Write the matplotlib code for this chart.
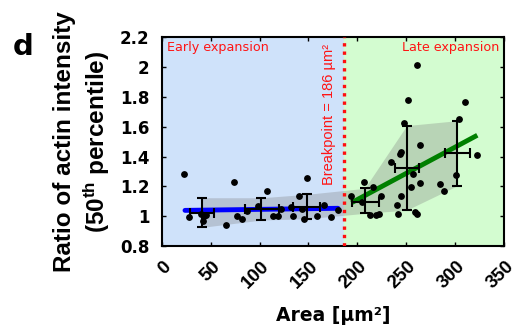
import numpy as np
import matplotlib
matplotlib.use("Agg")
import matplotlib.pyplot as plt
import matplotlib.transforms as mtransforms

plt.rcParams['font.family'] = ['Liberation Sans', 'DejaVu Sans']
plt.rcParams['mathtext.default'] = 'regular'

BREAKPOINT = 186

# individual cells (area, ratio)
early_x = [22.8, 28, 40, 42, 43, 45, 66, 74, 77, 82, 87, 98, 108, 114, 119,
           122, 132, 134, 140, 143, 145, 149, 159, 166, 173, 180]
early_y = [1.283, 0.995, 1.015, 0.964, 1.002, 1.008, 0.943, 1.229, 0.998, 0.979,
           1.037, 1.067, 1.17, 1.0, 1.0, 1.047, 1.063, 1.0, 1.137, 1.05, 0.98,
           1.256, 1.0, 1.074, 0.993, 1.038]
late_x = [193.9, 206.7, 215.9, 205.1, 213.3, 219.4, 222.0, 223.8, 234.7, 241.4,
          240.8, 243.2, 244.9, 244.2, 254.4, 256.7, 263.6, 264.3, 258.5, 261.1,
          285.0, 289.1, 248.1, 251.8, 261.4, 300.6, 304.0, 309.8, 322.7]
late_y = [1.134, 1.230, 1.197, 1.092, 1.009, 1.009, 1.013, 1.134, 1.362, 1.013,
          1.076, 1.416, 1.428, 1.134, 1.197, 1.282, 1.479, 1.219, 1.029, 1.013,
          1.215, 1.168, 1.623, 1.78, 2.016, 1.276, 1.65, 1.767, 1.41]

# binned means with errors
bin_x = [41.1, 102.0, 148.6, 207.5, 250.5, 302.3]
bin_y = [1.022, 1.045, 1.063, 1.096, 1.325, 1.421]
bin_xlo = [29.2, 84.8, 134.2, 194.9, 238.9, 290.0]
bin_xhi = [53.1, 119.9, 162.2, 222.2, 262.8, 315.6]
bin_ylo = [0.924, 0.973, 0.982, 1.018, 1.040, 1.204]
bin_yhi = [1.123, 1.123, 1.146, 1.186, 1.608, 1.641]

# piecewise linear fit
fit_early_x = [23.8, 180.2]
fit_early_y = [1.038, 1.052]
fit_late_x = [193.9, 322.7]
fit_late_y = [1.089, 1.543]

xtick_vals = [0, 50, 100, 150, 200, 250, 300, 350]
ytick_vals = [0.8, 1.0, 1.2, 1.4, 1.6, 1.8, 2.0, 2.2]
ytick_labels = ['0.8', '1', '1.2', '1.4', '1.6', '1.8', '2', '2.2']

WIDE = ['DejaVu Sans']

fig = plt.figure(figsize=(5.19, 3.33), dpi=100)
ax = fig.add_axes([0.3116, 0.2619, 0.6595, 0.6255])

ax.axvspan(0, BREAKPOINT, color='#cfe2fa', zorder=0)
ax.axvspan(BREAKPOINT, 350, color='#d3fcd0', zorder=0)

ax.fill_between(bin_x, bin_ylo, bin_yhi, color='#7a7a7a', alpha=0.3, lw=0, zorder=1)

ax.plot(fit_early_x, fit_early_y, color='#0000ff', lw=3.5, solid_capstyle='round', zorder=2)
ax.plot(fit_late_x, fit_late_y, color='#008000', lw=3.5, solid_capstyle='butt', zorder=2)

ax.scatter(early_x + late_x, early_y + late_y, s=15, color='black', zorder=3)

bx = np.array(bin_x)
by = np.array(bin_y)
xerr = [bx - np.array(bin_xlo), np.array(bin_xhi) - bx]
yerr = [by - np.array(bin_ylo), np.array(bin_yhi) - by]
ax.errorbar(bx, by, xerr=xerr, yerr=yerr, fmt='none', ecolor='black',
            elinewidth=1.5, capsize=3.5, capthick=1.5, zorder=4)

ax.axvline(BREAKPOINT, color='#ff0f0f', lw=2.4, dashes=(1, 1.5),
           dash_capstyle='butt', zorder=5)

ax.text(5, 2.13, 'Early expansion', color='#ff1414', fontsize=9.2,
        va='center', family=WIDE)
ax.text(345, 2.13, 'Late expansion', color='#ff1414', fontsize=9.2,
        va='center', ha='right', family=WIDE)
ax.text(171, 1.685, 'Breakpoint = 186 µm²', color='#ff1414',
        fontsize=10.5, rotation=90, ha='center', va='center')

ax.set_xlim(0, 350)
ax.set_ylim(0.8, 2.2)
ax.set_xticks(xtick_vals)
ax.set_yticks(ytick_vals)
ax.set_yticklabels(ytick_labels)
ax.tick_params(direction='in', top=True, right=True, length=3, width=1)
ax.tick_params(axis='y', pad=9, labelsize=12)
ax.tick_params(axis='x', pad=0, labelsize=13.5)
shift = mtransforms.ScaledTranslation(0.07, -0.185, fig.dpi_scale_trans)
for lab in ax.get_xticklabels():
    lab.set_rotation(45)
    lab.set_rotation_mode('anchor')
    lab.set_ha('right')
    lab.set_va('center')
    lab.set_fontweight('bold')
    lab.set_transform(lab.get_transform() + shift)
for lab in ax.get_yticklabels():
    lab.set_fontweight('bold')
    lab.set_family(WIDE)
for sp in ax.spines.values():
    sp.set_linewidth(1.5)

ax.set_xlabel('Area [µm²]', fontsize=13.5, fontweight='bold', va='center',
              family=WIDE)
ax.xaxis.set_label_coords(0.5, -0.337)
ax.set_ylabel('Ratio of actin intensity\n(50$^{th}$ percentile)', fontsize=17.5,
              fontweight='bold', va='center', linespacing=1.2)
ax.yaxis.set_label_coords(-0.231, 0.5)

fig.text(0.025, 0.835, 'd', fontsize=21, fontweight='bold', family=WIDE)

fig.savefig('out.png', dpi=100)
